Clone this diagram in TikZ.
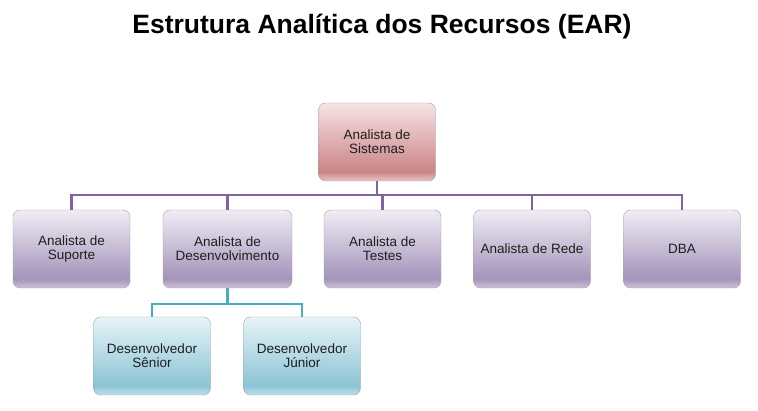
\documentclass[tikz,border=0pt]{standalone}
\usepackage{fontspec}
\setmainfont{Liberation Sans}
\usepackage{tikz}
\usetikzlibrary{positioning}

\definecolor{borda}{HTML}{A3A3A3}
\definecolor{linharoxa}{HTML}{8064A2}
\definecolor{linhaazul}{HTML}{4BACC6}
\definecolor{texto}{HTML}{1E1E1E}

\pgfdeclareverticalshading{tomroxo}{100bp}{color(0bp)=(rgb,255:red,205;green,195;blue,218); color(25bp)=(rgb,255:red,205;green,195;blue,218); color(31bp)=(rgb,255:red,163;green,148;blue,186); color(75bp)=(rgb,255:red,240;green,236;blue,244); color(100bp)=(rgb,255:red,240;green,236;blue,244)}
\pgfdeclareverticalshading{tomvermelho}{100bp}{color(0bp)=(rgb,255:red,232;green,196;blue,198); color(25bp)=(rgb,255:red,232;green,196;blue,198); color(31bp)=(rgb,255:red,203;green,132;blue,135); color(75bp)=(rgb,255:red,246;green,228;blue,229); color(100bp)=(rgb,255:red,246;green,228;blue,229)}
\pgfdeclareverticalshading{tomazul}{100bp}{color(0bp)=(rgb,255:red,192;green,224;blue,234); color(25bp)=(rgb,255:red,192;green,224;blue,234); color(31bp)=(rgb,255:red,138;green,196;blue,213); color(75bp)=(rgb,255:red,232;green,244;blue,248); color(100bp)=(rgb,255:red,232;green,244;blue,248)}

\begin{document}
\begin{tikzpicture}[x=1pt,y=-1pt,
    caixa/.style={draw=borda,rounded corners=7pt,shade,align=center,
        text=texto,font=\fontsize{13.5}{14}\selectfont,
        minimum width=117pt,minimum height=78pt,inner sep=0pt},
    roxo/.style={caixa,shading=tomroxo},
    vermelho/.style={caixa,shading=tomvermelho},
    azul/.style={caixa,shading=tomazul},
    ligacao/.style={line width=2.8pt}]
\useasboundingbox (0,0) rectangle (758,411);
\node (T) at (382,27) {\fontsize{26.5}{28}\selectfont\bfseries Estrutura Analítica dos Recursos (EAR)};

\node[vermelho] (S) at (377,142) {Analista de\\Sistemas};
\begin{scope}[every node/.style={roxo}]
    \node (Sup) at (71.5,249) {Analista de\\Suporte};
    \node[minimum width=129pt] (Dev) at (227.5,249) {Analista de\\Desenvolvimento};
    \node (Tst) at (382.5,249) {Analista de\\Testes};
    \node (Rede) at (532,249) {Analista de Rede};
    \node (DBA) at (682,249) {DBA};
\end{scope}
\begin{scope}[every node/.style={azul}]
    \node (Sen) at (152,356) {Desenvolvedor\\Sênior};
    \node (Jun) at (302,356) {Desenvolvedor\\Júnior};
\end{scope}

\coordinate (barra) at (0,195);
\coordinate (barra2) at (0,304);
\begin{scope}[ligacao, draw=linharoxa]
    \draw (S.south) -- (S.south |- barra);
    \draw (Sup.north) -- (Sup.north |- barra) -- (DBA.north |- barra) -- (DBA.north);
    \foreach \n in {Dev,Tst,Rede}
        \draw (\n.north) -- (\n.north |- barra);
\end{scope}
\begin{scope}[ligacao, draw=linhaazul]
    \draw (Dev.south) -- (Dev.south |- barra2);
    \draw (Sen.north) -- (Sen.north |- barra2) -- (Jun.north |- barra2) -- (Jun.north);
\end{scope}
\end{tikzpicture}
\end{document}
